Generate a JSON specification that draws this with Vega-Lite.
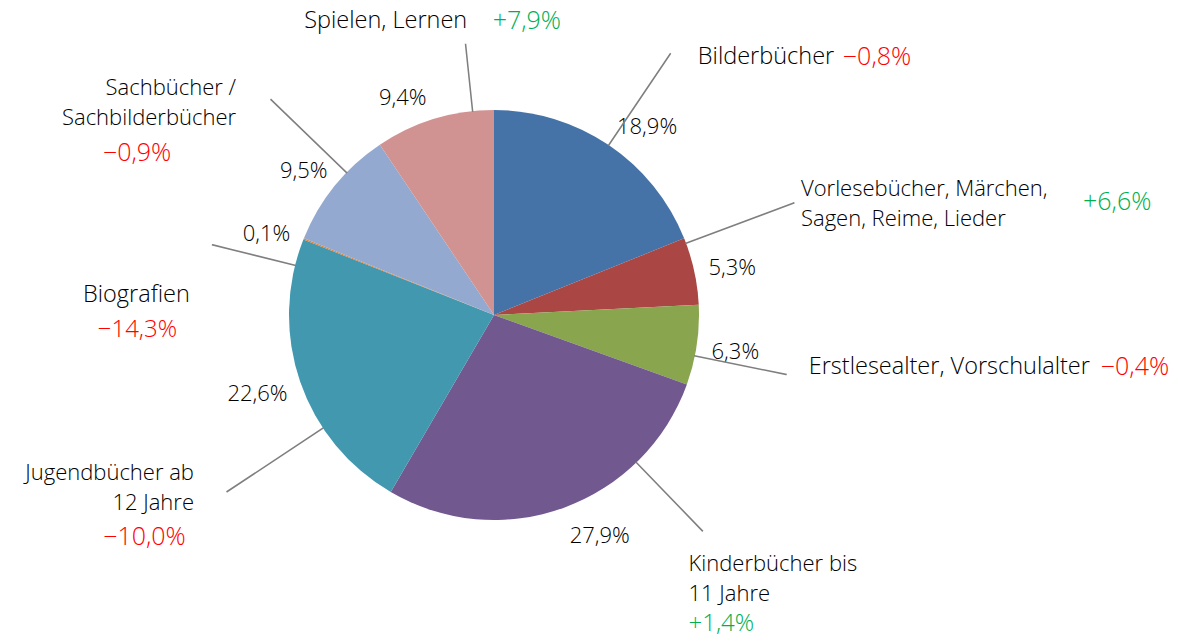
{
  "$schema": "https://vega.github.io/schema/vega-lite/v6.json",
  "width": 988,
  "height": 630,
  "autosize": {"type": "none"},
  "padding": {"left": 0, "top": 0, "right": 193, "bottom": 11},
  "background": "white",
  "config": {
    "view": {"stroke": null},
    "locale": {"number": {"decimal": ",", "thousands": ".", "grouping": [3], "currency": ["", " €"]}},
    "text": {"font": "Open Sans", "fontWeight": 300}
  },
  "data": {
    "values": [
      {"idx": 1, "name": "Bilderbücher", "share": 0.189, "change": -0.008},
      {"idx": 2, "name": "Vorlesebücher, Märchen,\nSagen, Reime, Lieder", "share": 0.053, "change": 0.066},
      {"idx": 3, "name": "Erstlesealter, Vorschulalter", "share": 0.063, "change": -0.004},
      {"idx": 4, "name": "Kinderbücher bis\n11 Jahre", "share": 0.279, "change": 0.014},
      {"idx": 5, "name": "Jugendbücher ab\n12 Jahre", "share": 0.226, "change": -0.100},
      {"idx": 6, "name": "Biografien", "share": 0.001, "change": -0.143},
      {"idx": 7, "name": "Sachbücher /\nSachbilderbücher", "share": 0.095, "change": -0.009},
      {"idx": 8, "name": "Spielen, Lernen", "share": 0.094, "change": 0.079}
    ]
  },
  "transform": [
    {"window": [{"op": "sum", "field": "share", "as": "cum"}], "sort": [{"field": "idx", "order": "ascending"}], "frame": [null, 0]},
    {"calculate": "datum.cum - datum.share / 2", "as": "mid"}
  ],
  "layer": [
    {
      "mark": {"type": "arc", "radius": 205},
      "encoding": {
        "theta": {"field": "share", "type": "quantitative", "stack": true, "scale": {"domain": [0, 1]}},
        "order": {"field": "idx", "type": "quantitative"},
        "color": {"field": "idx", "type": "nominal", "legend": null,
          "scale": {"domain": [1, 2, 3, 4, 5, 6, 7, 8], "range": ["#4572a7", "#aa4643", "#89a54e", "#71588f", "#4198af", "#db843d", "#93a9cf", "#d19392"]}}
      }
    },

    {"transform": [{"filter": "datum.idx == 1"}], "mark": {"type": "text", "radius": 245, "dx": 16, "dy": 15, "fontSize": 22, "align": "center", "baseline": "middle", "color": "#000000"},
     "encoding": {"theta": {"field": "mid", "type": "quantitative", "stack": null, "scale": {"domain": [0, 1]}}, "text": {"field": "share", "type": "quantitative", "format": ".1%"}}},
    {"transform": [{"filter": "datum.idx == 2"}], "mark": {"type": "text", "radius": 245, "dx": -1, "dy": 6, "fontSize": 22, "align": "center", "baseline": "middle", "color": "#000000"},
     "encoding": {"theta": {"field": "mid", "type": "quantitative", "stack": null, "scale": {"domain": [0, 1]}}, "text": {"field": "share", "type": "quantitative", "format": ".1%"}}},
    {"transform": [{"filter": "datum.idx == 3"}], "mark": {"type": "text", "radius": 245, "dx": -1, "dy": 1, "fontSize": 22, "align": "center", "baseline": "middle", "color": "#000000"},
     "encoding": {"theta": {"field": "mid", "type": "quantitative", "stack": null, "scale": {"domain": [0, 1]}}, "text": {"field": "share", "type": "quantitative", "format": ".1%"}}},
    {"transform": [{"filter": "datum.idx == 4"}], "mark": {"type": "text", "radius": 245, "dx": 22, "dy": -9, "fontSize": 22, "align": "center", "baseline": "middle", "color": "#000000"},
     "encoding": {"theta": {"field": "mid", "type": "quantitative", "stack": null, "scale": {"domain": [0, 1]}}, "text": {"field": "share", "type": "quantitative", "format": ".1%"}}},
    {"transform": [{"filter": "datum.idx == 5"}], "mark": {"type": "text", "radius": 245, "dx": -5, "dy": -1, "fontSize": 22, "align": "center", "baseline": "middle", "color": "#000000"},
     "encoding": {"theta": {"field": "mid", "type": "quantitative", "stack": null, "scale": {"domain": [0, 1]}}, "text": {"field": "share", "type": "quantitative", "format": ".1%"}}},
    {"transform": [{"filter": "datum.idx == 6"}], "mark": {"type": "text", "radius": 245, "dx": 0, "dy": 10, "fontSize": 22, "align": "center", "baseline": "middle", "color": "#000000"},
     "encoding": {"theta": {"field": "mid", "type": "quantitative", "stack": null, "scale": {"domain": [0, 1]}}, "text": {"field": "share", "type": "quantitative", "format": ".1%"}}},
    {"transform": [{"filter": "datum.idx == 7"}], "mark": {"type": "text", "radius": 245, "dx": 0, "dy": 10, "fontSize": 22, "align": "center", "baseline": "middle", "color": "#000000"},
     "encoding": {"theta": {"field": "mid", "type": "quantitative", "stack": null, "scale": {"domain": [0, 1]}}, "text": {"field": "share", "type": "quantitative", "format": ".1%"}}},
    {"transform": [{"filter": "datum.idx == 8"}], "mark": {"type": "text", "radius": 245, "dx": -20, "dy": 17, "fontSize": 22, "align": "center", "baseline": "middle", "color": "#000000"},
     "encoding": {"theta": {"field": "mid", "type": "quantitative", "stack": null, "scale": {"domain": [0, 1]}}, "text": {"field": "share", "type": "quantitative", "format": ".1%"}}},

    {"transform": [{"filter": "datum.idx == 1"}], "mark": {"type": "arc", "radius": 315, "radius2": 205, "thetaOffset": 0, "theta2Offset": 0.0002, "filled": false, "stroke": "#7f7f7f", "strokeWidth": 1.5},
     "encoding": {"theta": {"field": "mid", "type": "quantitative", "stack": null, "scale": {"domain": [0, 1]}}, "theta2": {"field": "mid"}}},
    {"transform": [{"filter": "datum.idx == 2"}], "mark": {"type": "arc", "radius": 320, "radius2": 205, "thetaOffset": -0.141, "theta2Offset": -0.1408, "filled": false, "stroke": "#7f7f7f", "strokeWidth": 1.5},
     "encoding": {"theta": {"field": "mid", "type": "quantitative", "stack": null, "scale": {"domain": [0, 1]}}, "theta2": {"field": "mid"}}},
    {"transform": [{"filter": "datum.idx == 3"}], "mark": {"type": "arc", "radius": 298, "radius2": 205, "thetaOffset": 0.0531, "theta2Offset": 0.0533, "filled": false, "stroke": "#7f7f7f", "strokeWidth": 1.5},
     "encoding": {"theta": {"field": "mid", "type": "quantitative", "stack": null, "scale": {"domain": [0, 1]}}, "theta2": {"field": "mid"}}},
    {"transform": [{"filter": "datum.idx == 4"}], "mark": {"type": "arc", "radius": 300, "radius2": 205, "thetaOffset": -0.4192, "theta2Offset": -0.419, "filled": false, "stroke": "#7f7f7f", "strokeWidth": 1.5},
     "encoding": {"theta": {"field": "mid", "type": "quantitative", "stack": null, "scale": {"domain": [0, 1]}}, "theta2": {"field": "mid"}}},
    {"transform": [{"filter": "datum.idx == 5"}], "mark": {"type": "arc", "radius": 320, "radius2": 205, "thetaOffset": -0.2517, "theta2Offset": -0.2515, "filled": false, "stroke": "#7f7f7f", "strokeWidth": 1.5},
     "encoding": {"theta": {"field": "mid", "type": "quantitative", "stack": null, "scale": {"domain": [0, 1]}}, "theta2": {"field": "mid"}}},
    {"transform": [{"filter": "datum.idx == 6"}], "mark": {"type": "arc", "radius": 290, "radius2": 205, "thetaOffset": -0.1358, "theta2Offset": -0.1356, "filled": false, "stroke": "#7f7f7f", "strokeWidth": 1.5},
     "encoding": {"theta": {"field": "mid", "type": "quantitative", "stack": null, "scale": {"domain": [0, 1]}}, "theta2": {"field": "mid"}}},
    {"transform": [{"filter": "datum.idx == 7"}], "mark": {"type": "arc", "radius": 310, "radius2": 205, "thetaOffset": 0.0862, "theta2Offset": 0.0864, "filled": false, "stroke": "#7f7f7f", "strokeWidth": 1.5},
     "encoding": {"theta": {"field": "mid", "type": "quantitative", "stack": null, "scale": {"domain": [0, 1]}}, "theta2": {"field": "mid"}}},
    {"transform": [{"filter": "datum.idx == 8"}], "mark": {"type": "arc", "radius": 272, "radius2": 205, "thetaOffset": 0.1906, "theta2Offset": 0.1908, "filled": false, "stroke": "#7f7f7f", "strokeWidth": 1.5},
     "encoding": {"theta": {"field": "mid", "type": "quantitative", "stack": null, "scale": {"domain": [0, 1]}}, "theta2": {"field": "mid"}}},

    {"transform": [{"filter": "datum.idx == 1"}], "mark": {"type": "text", "radius": 300, "dx": 36, "dy": -9, "align": "left", "baseline": "middle", "fontSize": 23.5, "color": "#000000"},
     "encoding": {"theta": {"field": "mid", "type": "quantitative", "stack": null, "scale": {"domain": [0, 1]}}, "text": {"field": "name"}}},
    {"transform": [{"filter": "datum.idx == 2"}], "mark": {"type": "text", "radius": 300, "dx": 14, "dy": -61.5, "align": "left", "baseline": "middle", "fontSize": 22, "lineBreak": "\n", "lineHeight": 30, "color": "#000000"},
     "encoding": {"theta": {"field": "mid", "type": "quantitative", "stack": null, "scale": {"domain": [0, 1]}}, "text": {"field": "name"}}},
    {"transform": [{"filter": "datum.idx == 3"}], "mark": {"type": "text", "radius": 300, "dx": 18, "dy": 8, "align": "left", "baseline": "middle", "fontSize": 23.5, "color": "#000000"},
     "encoding": {"theta": {"field": "mid", "type": "quantitative", "stack": null, "scale": {"domain": [0, 1]}}, "text": {"field": "name"}}},
    {"transform": [{"filter": "datum.idx == 4"}], "mark": {"type": "text", "radius": 300, "dx": 92, "dy": -33, "align": "left", "baseline": "middle", "fontSize": 22, "lineBreak": "\n", "lineHeight": 30, "color": "#000000"},
     "encoding": {"theta": {"field": "mid", "type": "quantitative", "stack": null, "scale": {"domain": [0, 1]}}, "text": {"field": "name"}}},
    {"transform": [{"filter": "datum.idx == 5"}], "mark": {"type": "text", "radius": 300, "dx": -16.5, "dy": 59.5, "align": "right", "baseline": "middle", "fontSize": 22, "lineBreak": "\n", "lineHeight": 30, "color": "#000000"},
     "encoding": {"theta": {"field": "mid", "type": "quantitative", "stack": null, "scale": {"domain": [0, 1]}}, "text": {"field": "name"}}},
    {"transform": [{"filter": "datum.idx == 6"}], "mark": {"type": "text", "radius": 300, "dx": -79, "dy": 91, "align": "center", "baseline": "middle", "fontSize": 23.5, "color": "#000000"},
     "encoding": {"theta": {"field": "mid", "type": "quantitative", "stack": null, "scale": {"domain": [0, 1]}}, "text": {"field": "name"}}},
    {"transform": [{"filter": "datum.idx == 7"}], "mark": {"type": "text", "radius": 300, "dx": -25, "dy": -37.5, "align": "right", "baseline": "middle", "fontSize": 22, "lineBreak": "\n", "lineHeight": 30, "color": "#000000"},
     "encoding": {"theta": {"field": "mid", "type": "quantitative", "stack": null, "scale": {"domain": [0, 1]}}, "text": {"field": "name"}}},
    {"transform": [{"filter": "datum.idx == 8"}], "mark": {"type": "text", "radius": 300, "dx": -21, "dy": -7, "align": "center", "baseline": "middle", "fontSize": 23.5, "color": "#000000"},
     "encoding": {"theta": {"field": "mid", "type": "quantitative", "stack": null, "scale": {"domain": [0, 1]}}, "text": {"field": "name"}}},

    {"transform": [{"filter": "datum.idx == 1"}], "mark": {"type": "text", "radius": 300, "dx": 181, "dy": -9, "align": "left", "baseline": "middle", "fontSize": 25},
     "encoding": {"theta": {"field": "mid", "type": "quantitative", "stack": null, "scale": {"domain": [0, 1]}}, "text": {"field": "change", "type": "quantitative", "format": "+.1%"},
       "color": {"condition": {"test": "datum.change >= 0", "value": "#00b050"}, "value": "#ff0000"}}},
    {"transform": [{"filter": "datum.idx == 2"}], "mark": {"type": "text", "radius": 300, "dx": 296, "dy": -48, "align": "left", "baseline": "middle", "fontSize": 25},
     "encoding": {"theta": {"field": "mid", "type": "quantitative", "stack": null, "scale": {"domain": [0, 1]}}, "text": {"field": "change", "type": "quantitative", "format": "+.1%"},
       "color": {"condition": {"test": "datum.change >= 0", "value": "#00b050"}, "value": "#ff0000"}}},
    {"transform": [{"filter": "datum.idx == 3"}], "mark": {"type": "text", "radius": 300, "dx": 310, "dy": 8, "align": "left", "baseline": "middle", "fontSize": 25},
     "encoding": {"theta": {"field": "mid", "type": "quantitative", "stack": null, "scale": {"domain": [0, 1]}}, "text": {"field": "change", "type": "quantitative", "format": "+.1%"},
       "color": {"condition": {"test": "datum.change >= 0", "value": "#00b050"}, "value": "#ff0000"}}},
    {"transform": [{"filter": "datum.idx == 4"}], "mark": {"type": "text", "radius": 300, "dx": 92, "dy": 27, "align": "left", "baseline": "middle", "fontSize": 24},
     "encoding": {"theta": {"field": "mid", "type": "quantitative", "stack": null, "scale": {"domain": [0, 1]}}, "text": {"field": "change", "type": "quantitative", "format": "+.1%"},
       "color": {"condition": {"test": "datum.change >= 0", "value": "#00b050"}, "value": "#ff0000"}}},
    {"transform": [{"filter": "datum.idx == 5"}], "mark": {"type": "text", "radius": 300, "dx": -66, "dy": 124, "align": "center", "baseline": "middle", "fontSize": 25},
     "encoding": {"theta": {"field": "mid", "type": "quantitative", "stack": null, "scale": {"domain": [0, 1]}}, "text": {"field": "change", "type": "quantitative", "format": "+.1%"},
       "color": {"condition": {"test": "datum.change >= 0", "value": "#00b050"}, "value": "#ff0000"}}},
    {"transform": [{"filter": "datum.idx == 6"}], "mark": {"type": "text", "radius": 300, "dx": -78, "dy": 126, "align": "center", "baseline": "middle", "fontSize": 24},
     "encoding": {"theta": {"field": "mid", "type": "quantitative", "stack": null, "scale": {"domain": [0, 1]}}, "text": {"field": "change", "type": "quantitative", "format": "+.1%"},
       "color": {"condition": {"test": "datum.change >= 0", "value": "#00b050"}, "value": "#ff0000"}}},
    {"transform": [{"filter": "datum.idx == 7"}], "mark": {"type": "text", "radius": 300, "dx": -124, "dy": 27, "align": "center", "baseline": "middle", "fontSize": 25},
     "encoding": {"theta": {"field": "mid", "type": "quantitative", "stack": null, "scale": {"domain": [0, 1]}}, "text": {"field": "change", "type": "quantitative", "format": "+.1%"},
       "color": {"condition": {"test": "datum.change >= 0", "value": "#00b050"}, "value": "#ff0000"}}},
    {"transform": [{"filter": "datum.idx == 8"}], "mark": {"type": "text", "radius": 300, "dx": 86, "dy": -7, "align": "left", "baseline": "middle", "fontSize": 25},
     "encoding": {"theta": {"field": "mid", "type": "quantitative", "stack": null, "scale": {"domain": [0, 1]}}, "text": {"field": "change", "type": "quantitative", "format": "+.1%"},
       "color": {"condition": {"test": "datum.change >= 0", "value": "#00b050"}, "value": "#ff0000"}}}
  ]
}
